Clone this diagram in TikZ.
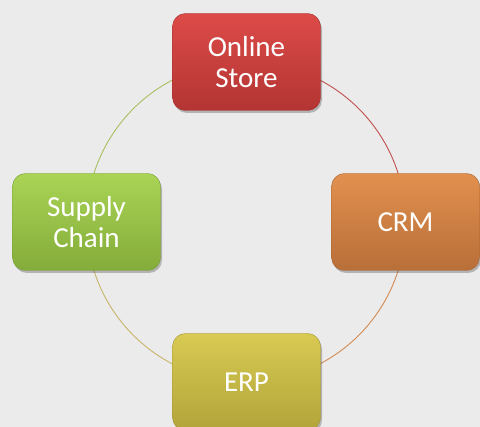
\documentclass[tikz,border=0pt]{standalone}
\usepackage{fontspec}
\setmainfont{Carlito}
\usetikzlibrary{shadows,backgrounds}
\definecolor{bgc}{HTML}{EBEBEB}
\definecolor{redT}{HTML}{DC4B48}\definecolor{redB}{HTML}{B33533}\definecolor{redL}{HTML}{C0504D}
\definecolor{orT}{HTML}{E2904F}\definecolor{orB}{HTML}{B86F38}\definecolor{orL}{HTML}{D38A52}
\definecolor{grT}{HTML}{A9D455}\definecolor{grB}{HTML}{84AC3A}\definecolor{grL}{HTML}{A8BF62}
\definecolor{yeT}{HTML}{D8CA52}\definecolor{yeB}{HTML}{B2A43A}\definecolor{yeL}{HTML}{C8B46A}
\tikzset{
  box/.style={rounded corners=13pt, minimum width=148pt, minimum height=97pt,
    inner sep=0pt, align=center, text=white,
    font=\fontsize{29}{31}\selectfont,
    drop shadow={shadow xshift=1.5pt, shadow yshift=-2.5pt, opacity=0.35, fill=black!70}},
  ring/.style={line width=0.9pt},
}
\begin{document}
\begin{tikzpicture}[x=1pt,y=1pt]
\useasboundingbox (0,0) rectangle (480,427);
\clip (0,0) rectangle (480,427);
\node[box, top color=redT, bottom color=redB, draw=redB!90!black] (os) at (246.5,365) {Online\\Store};
\node[box, top color=orT, bottom color=orB, draw=orB!90!black] (crm) at (405.5,205) {CRM};
\node[box, top color=yeT, bottom color=yeB, draw=yeB!90!black] (erp) at (246.5,45) {ERP};
\node[box, top color=grT, bottom color=grB, draw=grB!90!black] (sc) at (86.5,205) {Supply\\Chain};
\begin{scope}[on background layer]
\fill[bgc] (0,0) rectangle (480,427);
\draw[ring, redL] (os.center) to[bend left=45] (crm.center);
\draw[ring, orL] (crm.center) to[bend left=45] (erp.center);
\draw[ring, yeL] (erp.center) to[bend left=45] (sc.center);
\draw[ring, grL] (sc.center) to[bend left=45] (os.center);
\end{scope}
\end{tikzpicture}
\end{document}
